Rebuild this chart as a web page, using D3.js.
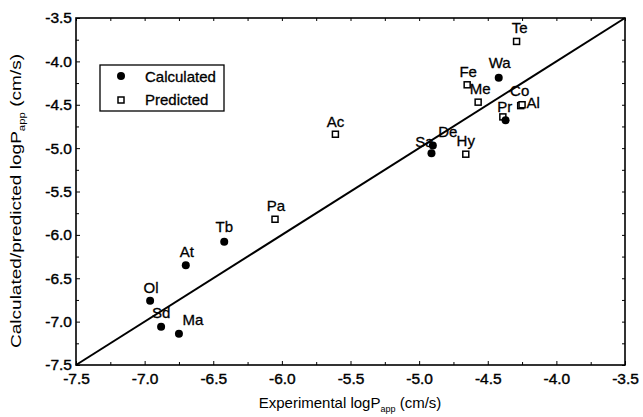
<!DOCTYPE html>
<html>
<head>
<meta charset="utf-8">
<script src="https://cdn.jsdelivr.net/npm/d3@7"></script>
<style>
  body { margin: 0; background: #fff; }
  text { font-family: "Liberation Sans", Arial, sans-serif; fill: #000; }
</style>
</head>
<body>
<div id="chart"></div>
<script>
// calculated values (filled circles)
const calcNames = ["Ol", "Sd", "Ma", "At", "Tb", "Sa", "De", "Wa", "Pr"];
const calcExp   = [-6.96, -6.88, -6.75, -6.70, -6.42, -4.91, -4.90, -4.42, -4.37];
const calcVal   = [-6.76, -7.06, -7.14, -6.35, -6.08, -5.06, -4.97, -4.19, -4.68];

// predicted values (open squares)
const predNames = ["Pa", "Ac", "Hy", "Fe", "Me", "Pr", "Co", "Al", "Te"];
const predExp   = [-6.05, -5.61, -4.66, -4.65, -4.57, -4.39, -4.26, -4.25, -4.29];
const predVal   = [-5.82, -4.84, -5.07, -4.27, -4.47, -4.64, -4.51, -4.50, -3.77];

const majorTicks = [-7.5, -7.0, -6.5, -6.0, -5.5, -5.0, -4.5, -4.0, -3.5];
const minorTicks = [-7.25, -6.75, -6.25, -5.75, -5.25, -4.75, -4.25, -3.75];
const unityLine = [-7.5, -3.5];

// where each label sits relative to its marker (px)
const labelOffsets = {
  Te: [3, -8], Wa: [1, -10], Fe: [1, -8], Me: [2, -8], Co: [-1, -10],
  Al: [11, 3], Pr: [2, -5], Hy: [0, -8], De: [15, -9], Sa: [-7, -6],
  Ac: [0, -7], Pa: [1, -8], Tb: [0, -10], At: [1, -8], Ol: [1, -8],
  Sd: [0, -9], Ma: [14, -9]
};

const width = 643, height = 417;
const svg = d3.select("#chart").append("svg")
    .attr("width", width)
    .attr("height", height);

const x = d3.scaleLinear().domain([-7.5, -3.5]).range([76, 625]);
const y = d3.scaleLinear().domain([-7.5, -3.5]).range([365, 18]);
const fmt = d => d.toFixed(1);

// axes with inward ticks
svg.append("g").attr("transform", "translate(0,365)")
    .call(d3.axisBottom(x).tickValues(majorTicks).tickSize(-4).tickPadding(8).tickFormat(fmt));
svg.append("g").attr("transform", "translate(0,365)")
    .call(d3.axisBottom(x).tickValues(minorTicks).tickSize(-3).tickFormat(""));
svg.append("g").attr("transform", "translate(76,0)")
    .call(d3.axisLeft(y).tickValues(majorTicks).tickSize(-4).tickPadding(4).tickFormat(fmt));
svg.append("g").attr("transform", "translate(76,0)")
    .call(d3.axisLeft(y).tickValues(minorTicks).tickSize(-3).tickFormat(""));
svg.append("g").attr("transform", "translate(0,18)")
    .call(d3.axisTop(x).tickValues(majorTicks.concat(minorTicks)).tickSize(-3).tickFormat(""));
svg.append("g").attr("transform", "translate(625,0)")
    .call(d3.axisRight(y).tickValues(majorTicks.concat(minorTicks)).tickSize(-3).tickFormat(""));

svg.selectAll(".domain").remove();
svg.selectAll(".tick line").attr("stroke", "#000").attr("stroke-width", 1);
svg.selectAll(".tick text")
    .attr("font-size", 15.5)
    .attr("font-family", "'Liberation Sans', Arial, sans-serif")
    .attr("stroke", "#000").attr("stroke-width", 0.4);

// frame
svg.append("rect")
    .attr("x", x(-7.5)).attr("y", y(-3.5))
    .attr("width", x(-3.5) - x(-7.5)).attr("height", y(-7.5) - y(-3.5))
    .attr("fill", "none").attr("stroke", "#000").attr("stroke-width", 1.6);

// line of unity
svg.append("path")
    .datum(unityLine)
    .attr("d", d3.line().x(d => x(d)).y(d => y(d)))
    .attr("fill", "none").attr("stroke", "#000").attr("stroke-width", 2);

const calc = calcNames.map((n, i) => ({name: n, ex: calcExp[i], val: calcVal[i]}));
const pred = predNames.map((n, i) => ({name: n, ex: predExp[i], val: predVal[i]}));

svg.selectAll("rect.pred")
    .data(pred)
    .enter()
    .append("rect")
    .attr("class", "pred")
    .attr("x", d => x(d.ex) - 3)
    .attr("y", d => y(d.val) - 3)
    .attr("width", 6).attr("height", 6)
    .attr("fill", "#fff").attr("stroke", "#000").attr("stroke-width", 1.5);

svg.selectAll("circle.calc")
    .data(calc)
    .enter()
    .append("circle")
    .attr("class", "calc")
    .attr("cx", d => x(d.ex))
    .attr("cy", d => y(d.val))
    .attr("r", 4)
    .attr("fill", "#000");

// one label per compound
const seen = new Set();
const labels = pred.concat(calc).filter(d => {
    if (seen.has(d.name)) return false;
    seen.add(d.name);
    return true;
});
svg.selectAll("text.lbl")
    .data(labels)
    .enter()
    .append("text")
    .attr("class", "lbl")
    .attr("x", d => x(d.ex) + labelOffsets[d.name][0])
    .attr("y", d => y(d.val) + labelOffsets[d.name][1])
    .attr("text-anchor", "middle")
    .attr("font-size", 15)
    .attr("stroke", "#000").attr("stroke-width", 0.3)
    .text(d => d.name);

// legend
const legend = svg.append("g");
legend.append("rect")
    .attr("x", 100).attr("y", 65).attr("width", 124).attr("height", 46)
    .attr("fill", "#fff").attr("stroke", "#000").attr("stroke-width", 1.3);
legend.append("circle").attr("cx", 121).attr("cy", 76).attr("r", 4).attr("fill", "#000");
legend.append("rect").attr("x", 118).attr("y", 97).attr("width", 6).attr("height", 6)
    .attr("fill", "#fff").attr("stroke", "#000").attr("stroke-width", 1.5);
legend.append("text").attr("x", 145).attr("y", 82).attr("font-size", 15)
    .attr("stroke", "#000").attr("stroke-width", 0.3).text("Calculated");
legend.append("text").attr("x", 145).attr("y", 105).attr("font-size", 15)
    .attr("stroke", "#000").attr("stroke-width", 0.3).text("Predicted");

// axis titles
const xt = svg.append("text")
    .attr("x", 350).attr("y", 408)
    .attr("text-anchor", "middle")
    .attr("font-size", 15);
xt.append("tspan").text("Experimental logP");
xt.append("tspan").attr("font-size", 9).attr("dy", 4).text("app");
xt.append("tspan").attr("dy", -4).text(" (cm/s)");

// the scanned y title runs longer than its glyph height suggests
const yt = svg.append("text")
    .attr("transform", "translate(21,201) rotate(-90) scale(1.27,1)")
    .attr("text-anchor", "middle")
    .attr("font-size", 15);
yt.append("tspan").text("Calculated/predicted logP");
yt.append("tspan").attr("font-size", 9).attr("dy", 4).text("app");
yt.append("tspan").attr("dy", -4).text(" (cm/s)");
</script>
</body>
</html>
